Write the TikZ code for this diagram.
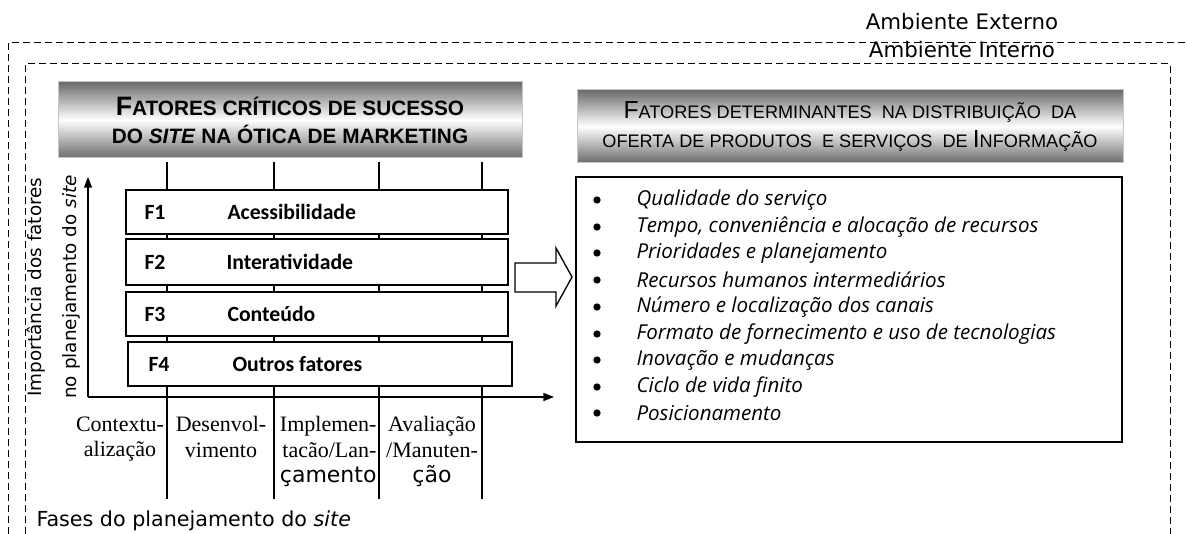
\documentclass[tikz,border=0pt]{standalone}
\usepackage{fontspec}
\setmainfont{Liberation Serif}
\newfontfamily\hdfont{Liberation Sans}
\newfontfamily\fxfont{Carlito}
\newfontfamily\lsfont{Open Sans}
\newfontfamily\amfont{DejaVu Sans}
\usetikzlibrary{arrows.meta}

\newcommand{\initcap}[1]{{\fontsize{20}{22}\selectfont #1}}

\tikzset{every picture/.style={line width=0.75pt}}
\tikzset{
  envline/.style={dash pattern=on 5.25pt off 3pt},
  hdbox/.style={top color=black!58, bottom color=black!58, middle color=white, draw=gray!45, inner sep=0pt},
  fbox/.style={draw, fill=white, line width=1pt, inner sep=0pt},
  flab/.style={anchor=west, inner sep=0pt, font=\fxfont\bfseries\fontsize{16.3}{18}\selectfont},
  phase/.style={line width=1.1pt},
  axis/.style={line width=1.1pt, -{Triangle[length=8pt,width=6pt]}},
  amtxt/.style={inner sep=0pt, font=\amfont\fontsize{13.8}{16}\selectfont},
  coltxt/.style={inner sep=0pt, align=center, anchor=north, font=\fontsize{16.5}{19}\selectfont},
  bul/.style={circle, fill, inner sep=0pt, minimum size=5.5pt},
  itm/.style={anchor=west, inner sep=0pt, font=\lsfont\itshape\fontsize{15.4}{17}\selectfont}
}

\begin{document}
\begin{tikzpicture}[x=0.75pt,y=0.75pt,yscale=-1,xscale=1]
\useasboundingbox (0,0) rectangle (1187,534);

%Ambiente labels
\node[amtxt, font=\amfont\fontsize{16}{18}\selectfont] (ext) at (962,22) {Ambiente Externo};
\node[amtxt, font=\amfont\fontsize{16}{18}\selectfont] (int) at (962,50) {Ambiente Interno};

%Dashed frames
\draw[envline] (8,545) -- (8,43) -- (1195,43);
\draw[envline] (25,545) -- (25,64) -- (1170,64) -- (1170,545);

%Header boxes
\node[hdbox, minimum width=348pt, minimum height=57pt, align=center,
  font=\hdfont\bfseries\fontsize{15.6}{21}\selectfont] (hdl) at (290,120)
  {\initcap{F}ATORES CRÍTICOS DE SUCESSO\\DO \textit{SITE} NA ÓTICA DE MARKETING};
\node[hdbox, minimum width=409.5pt, minimum height=54.75pt, align=center,
  font=\hdfont\fontsize{13.6}{21.75}\selectfont] (hdr) at (850,126.5)
  {{\fontsize{18.5}{20}\selectfont F}ATORES DETERMINANTES\ \ NA DISTRIBUIÇÃO\ \ DA\\OFERTA DE PRODUTOS\ \ E SERVIÇOS\ \ DE {\fontsize{18.5}{20}\selectfont I}NFORMAÇÃO};

%Phase lines
\coordinate (p1a) at (167,162); \coordinate (p1b) at (167,499);
\coordinate (p2a) at (274,162); \coordinate (p2b) at (274,499);
\coordinate (p3a) at (379,162); \coordinate (p3b) at (379,499);
\coordinate (p4a) at (482,162); \coordinate (p4b) at (482,499);
\draw[phase] (p1a) -- (p1b);
\draw[phase] (p2a) -- (p2b);
\draw[phase] (p3a) -- (p3b);
\draw[phase] (p4a) -- (p4b);

%Factor boxes
\node[fbox, minimum width=286.5pt, minimum height=33pt] (f1) at (317,212) {};
\node[fbox, minimum width=286.5pt, minimum height=34.5pt] (f2) at (317,262) {};
\node[fbox, minimum width=286.5pt, minimum height=33pt] (f3) at (317,314) {};
\node[fbox, minimum width=288pt, minimum height=33pt] (f4) at (320,364) {};

% Text Node
\node[flab] (f1id) at (144,212) {F1};
\node[flab] (f1nm) at (227,212) {Acessibilidade};
\node[flab] (f2id) at (144,262) {F2};
\node[flab] (f2nm) at (226,262) {Interatividade};
\node[flab] (f3id) at (144,314) {F3};
\node[flab] (f3nm) at (227,314) {Conteúdo};
\node[flab] (f4id) at (148,364) {F4};
\node[flab] (f4nm) at (232,364) {Outros fatores};

%Axes
\coordinate (orig) at (88,397);
\coordinate (ytip) at (88,177);
\coordinate (xtip) at (554,397);
\draw[axis] (orig) -- (ytip);
\draw[axis] (orig) -- (xtip);

% Text Node
\node[amtxt, rotate=90] (imp1) at (36,287) {Importância dos fatores};
\node[amtxt, rotate=90] (imp2) at (71,287) {no planejamento do \textit{site}};

%Phase labels
\node[coltxt] (c1) at (120,416) {Contextu-\\alização};
\node[coltxt] (c2) at (221,416) {Desenvol-\\vimento};
\node[coltxt, align=right, anchor=north east] (c3) at (377,416) {Implemen-\\tacão/Lan-\\{\amfont çamento}};
\node[coltxt] (c4) at (432,416) {Avaliação\\/Manuten-\\{\amfont ção}};
\node[amtxt, anchor=west, font=\amfont\fontsize{15.5}{18}\selectfont] (fases) at (36,521) {Fases do planejamento do \textit{site}};

%Hollow arrow
\draw[line width=1pt, fill=white] (515,263) -- (556,263) -- (556,248) -- (572,277) -- (556,306) -- (556,292) -- (515,292) -- cycle;

%List box
\node[draw, line width=1pt, minimum width=409.5pt, minimum height=198.75pt] (lst) at (849,309.5) {};
\node[bul] (b1) at (597,200) {};
\node[bul] (b2) at (597,227) {};
\node[bul] (b3) at (597,253) {};
\node[bul] (b4) at (597,280) {};
\node[bul] (b5) at (597,307) {};
\node[bul] (b6) at (597,334) {};
\node[bul] (b7) at (597,360) {};
\node[bul] (b8) at (597,387) {};
\node[bul] (b9) at (597,413) {};
\node[itm] (i1) at (636,200) {Qualidade do serviço};
\node[itm] (i2) at (636,227) {Tempo, conveniência e alocação de recursos};
\node[itm] (i3) at (636,253) {Prioridades e planejamento};
\node[itm] (i4) at (636,280) {Recursos\ humanos intermediários};
\node[itm] (i5) at (636,307) {Número e localização dos canais};
\node[itm] (i6) at (636,334) {Formato de fornecimento e uso de tecnologias};
\node[itm] (i7) at (636,360) {Inovação e mudanças};
\node[itm] (i8) at (636,387) {Ciclo de vida finito};
\node[itm] (i9) at (636,413) {Posicionamento};

\end{tikzpicture}
\end{document}
